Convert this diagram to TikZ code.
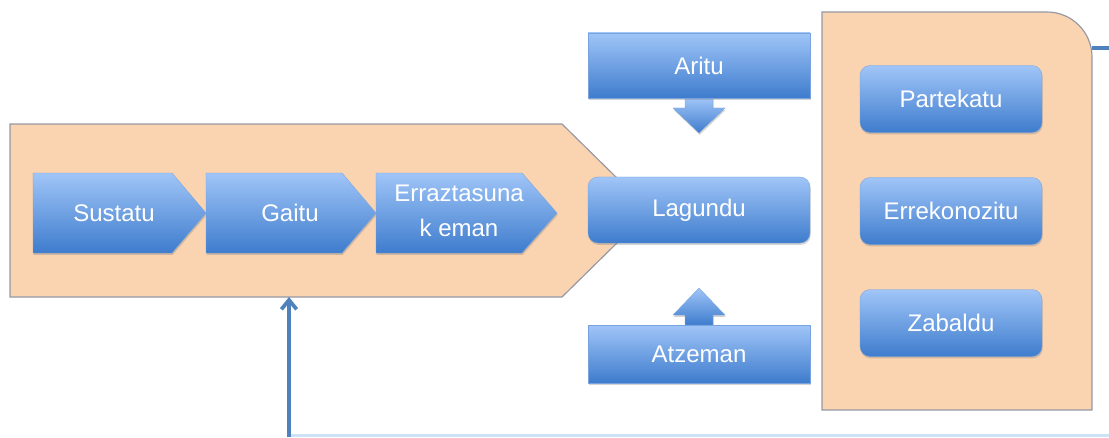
\documentclass[tikz,border=0pt]{standalone}
\usepackage{fontspec}
\setmainfont{Liberation Sans}
\usetikzlibrary{shadows,arrows.meta}

\definecolor{peach}{RGB}{250,211,176}
\definecolor{peachline}{RGB}{150,152,165}
\definecolor{bluetop}{RGB}{160,197,248}
\definecolor{bluebot}{RGB}{62,124,205}
\definecolor{loopblue}{RGB}{79,129,189}
\definecolor{faintblue}{RGB}{205,226,244}

\tikzset{
  stage/.style={fill=peach,draw=peachline,line width=1pt},
  bluebox/.style={top color=bluetop,bottom color=bluebot,draw=bluebot!70,line width=0.3pt,
    drop shadow={shadow xshift=0.6pt,shadow yshift=-1.6pt,opacity=0.35}},
  boxtext/.style={text=white,font=\fontsize{20.5}{30}\selectfont,align=center},
  roundbox/.style={bluebox,boxtext,rounded corners=0.3cm,inner sep=0pt},
  loopline/.style={draw=loopblue,line width=3.2pt}
}

\begin{document}
\begin{tikzpicture}[x=0.03cm,y=0.03cm]
  \useasboundingbox (0,0) rectangle (1109,437);

  % the two orange back shapes
  \draw[stage] (10,140) -- (10,313) -- (562,313) -- (650,226.5) -- (562,140) -- cycle;
  \coordinate (stagefoot) at (289,140);

  \draw[stage] (822,27) -- (822,425) -- (1047,425)
    arc[start angle=90,end angle=0,radius=45] -- (1092,27) -- cycle;
  \coordinate (loopout) at (1092,389);
  \coordinate (loopend) at (1109,389);

  % chevrons
  \shade[bluebox] (33,184) -- (33,264) -- (172,264) -- (206,224) -- (172,184) -- cycle;
  \shade[bluebox] (206,184) -- (206,264) -- (342,264) -- (376,224) -- (342,184) -- cycle;
  \shade[bluebox] (376,184) -- (376,264) -- (522,264) -- (557,224) -- (522,184) -- cycle;
  \node[boxtext] (sustatu) at (114,224) {Sustatu};
  \node[boxtext] (gaitu) at (290,224) {Gaitu};
  \node[boxtext] (erraz) at (459,226) {Erraztasuna\\k eman};

  % middle column
  \node[roundbox,minimum width=6.66cm,minimum height=1.98cm] (lagundu) at (699,227) {Lagundu};

  \shade[bluebox] (685,339) -- ++(0,-10) -- ++(-12,0) -- ++(26,-25) -- ++(26,25)
    -- ++(-12,0) -- ++(0,10) -- cycle;
  \node[bluebox,boxtext,inner sep=0pt,minimum width=6.66cm,minimum height=1.95cm] (aritu) at (699,371.5) {Aritu};

  \shade[bluebox] (685,112) -- ++(0,10) -- ++(-12,0) -- ++(26,27) -- ++(26,-27)
    -- ++(-12,0) -- ++(0,-10) -- cycle;
  \node[bluebox,boxtext,inner sep=0pt,minimum width=6.66cm,minimum height=1.74cm] (atzeman) at (699,83) {Atzeman};

  % right column
  \node[roundbox,minimum width=5.46cm,minimum height=2.01cm] (partekatu) at (951,338) {Partekatu};
  \node[roundbox,minimum width=5.46cm,minimum height=2.01cm] (errekonozitu) at (951,226) {Errekonozitu};
  \node[roundbox,minimum width=5.46cm,minimum height=2.01cm] (zabaldu) at (951,114) {Zabaldu};

  % feedback loop
  \coordinate (loopbase) at (289,0);
  \coordinate (loopcorner) at (1109,1.5);
  \draw[loopline] (loopout) -- (loopend);
  \draw[draw=faintblue,line width=2pt] (loopbase |- loopcorner) -- (loopcorner);
  \draw[loopline,-{Straight Barb[length=8pt,width=13pt]}] (loopbase) -- (stagefoot);

\end{tikzpicture}
\end{document}
